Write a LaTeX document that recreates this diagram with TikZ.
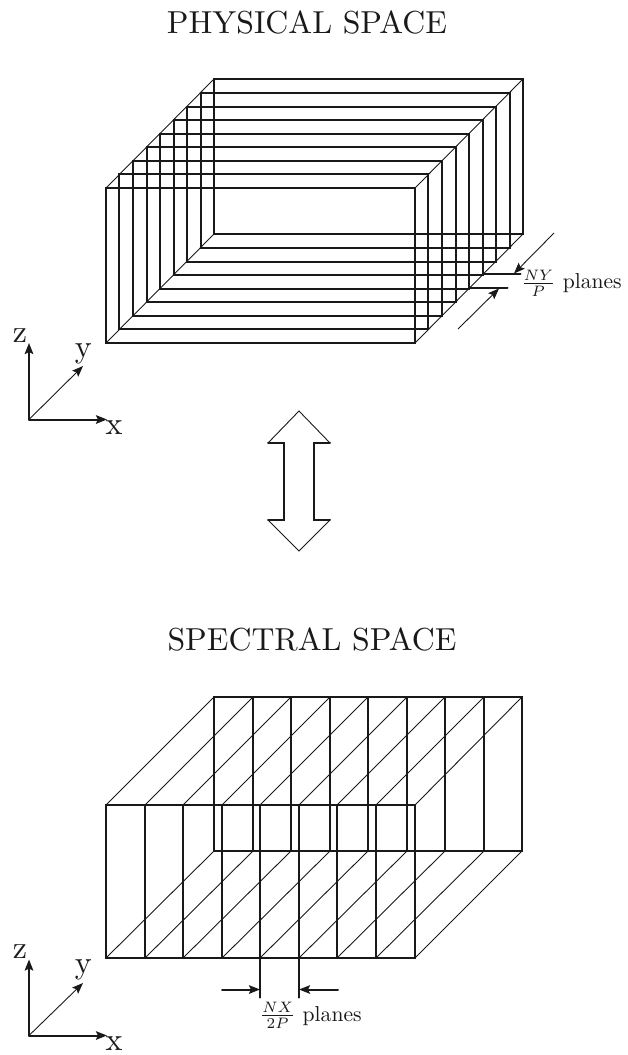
\documentclass[tikz,border=0pt]{standalone}
\usetikzlibrary{arrows.meta}
\definecolor{ink}{gray}{0.1}
\newcommand{\bigtxt}[1]{\scalebox{3.18}{#1}}
\newcommand{\axtxt}[1]{\scalebox{3.2}{#1}}
\newcommand{\plantxt}[1]{\scalebox{2.16}{#1}}
\tikzset{
  heavy/.style={draw=ink,line width=2pt,line cap=round,line join=miter},
  fine/.style={draw=ink,line width=0.9pt},
  tipped/.style={-{Stealth[length=11pt,width=8.5pt,inset=2pt]}},
  title/.style={text=ink,inner sep=0pt},
  axislabel/.style={text=ink,inner sep=0pt},
  plabel/.style={text=ink,inner sep=0pt,anchor=west}
}
\begin{document}
\begin{tikzpicture}[x=1pt,y=-1pt]
\useasboundingbox (0,0) rectangle (627,1055);
% ---------- physical space
\node[title] (phystitle) at (307,22.5) {\bigtxt{PHYSICAL SPACE}};
\foreach \dx/\dy in {0/0,13/14,27/27,41/41,54/54,68/68,81/81,95/95,108/109}{
  \draw[heavy] (106+\dx,188-\dy) rectangle (415+\dx,343-\dy);
}
\draw[fine] (106,188) -- (214,79);
\draw[fine] (415,188) -- (523,79);
\draw[fine] (415,343) -- (523,234);
\draw[fine] (106,343) -- (214,234);
\coordinate (ny1) at (483,274);
\coordinate (ny2) at (469,288);
\draw[heavy] (ny1) -- (520.5,274);
\draw[heavy] (ny2) -- (507.5,288);
\coordinate (ny1s) at (554,233);
\coordinate (ny1e) at (514,273.5);
\coordinate (ny2s) at (458,329);
\coordinate (ny2e) at (499,288.5);
\draw[fine,tipped] (ny1s) -- (ny1e);
\draw[fine,tipped] (ny2s) -- (ny2e);
\node[plabel] (nylabel) at (521,283) {\plantxt{$\frac{NY}{P}$\ planes}};
% axes 1
\coordinate (o1) at (29,419.5);
\coordinate (z1) at (29,343);
\coordinate (x1) at (107,419.5);
\coordinate (y1) at (83,366);
\draw[heavy,tipped] (o1) -- (z1);
\draw[heavy,tipped] (o1) -- (x1);
\draw[fine,tipped] (o1) -- (y1);
\node[axislabel] (zl1) at (20,336) {\axtxt{z}};
\node[axislabel] (yl1) at (83.3,353.5) {\axtxt{y}};
\node[axislabel] (xl1) at (114,427.5) {\axtxt{x}};
% double arrow
\draw[fine] (268,443) -- (299,411) -- (330,443);
\draw[fine] (268,520) -- (299,551) -- (330,520);
\draw[heavy] (268,443) -- (284,443) -- (284,520) -- (268,520);
\draw[heavy] (330,443) -- (314,443) -- (314,520) -- (330,520);
% ---------- spectral space
\node[title] (spectitle) at (312,639.5) {\bigtxt{SPECTRAL SPACE}};
\draw[heavy] (106,805) rectangle (415,958);
\draw[heavy] (214,697) rectangle (522,851);
\foreach \xa/\xb in {106/214,145/253,183/291,222/330,260/368,299/407,337/445,376/484,415/522}{
  \draw[heavy] (\xa,805) -- (\xa,958);
  \draw[heavy] (\xb,697) -- (\xb,851);
  \draw[fine] (\xa,805) -- (\xb,697);
  \draw[fine] (\xa,958) -- (\xb,851);
}
\coordinate (nx1) at (260,958);
\coordinate (nx2) at (299,958);
\draw[heavy] (nx1) -- (260,997.5);
\draw[heavy] (nx2) -- (299,997.5);
\coordinate (nx1s) at (222,989.5);
\coordinate (nx1e) at (260,989.5);
\coordinate (nx2s) at (338,989.5);
\coordinate (nx2e) at (299,989.5);
\draw[heavy,tipped] (nx1s) -- (nx1e);
\draw[heavy,tipped] (nx2s) -- (nx2e);
\node[plabel] (nxlabel) at (259.5,1015.5) {\plantxt{$\frac{NX}{2P}$\ planes}};
% axes 2
\coordinate (o2) at (29,1035.5);
\coordinate (z2) at (29,959.5);
\coordinate (x2) at (107,1035.5);
\coordinate (y2) at (83,983);
\draw[heavy,tipped] (o2) -- (z2);
\draw[heavy,tipped] (o2) -- (x2);
\draw[fine,tipped] (o2) -- (y2);
\node[axislabel] (zl2) at (20,952) {\axtxt{z}};
\node[axislabel] (yl2) at (83.3,969.5) {\axtxt{y}};
\node[axislabel] (xl2) at (114,1043.5) {\axtxt{x}};
\end{tikzpicture}
\end{document}
